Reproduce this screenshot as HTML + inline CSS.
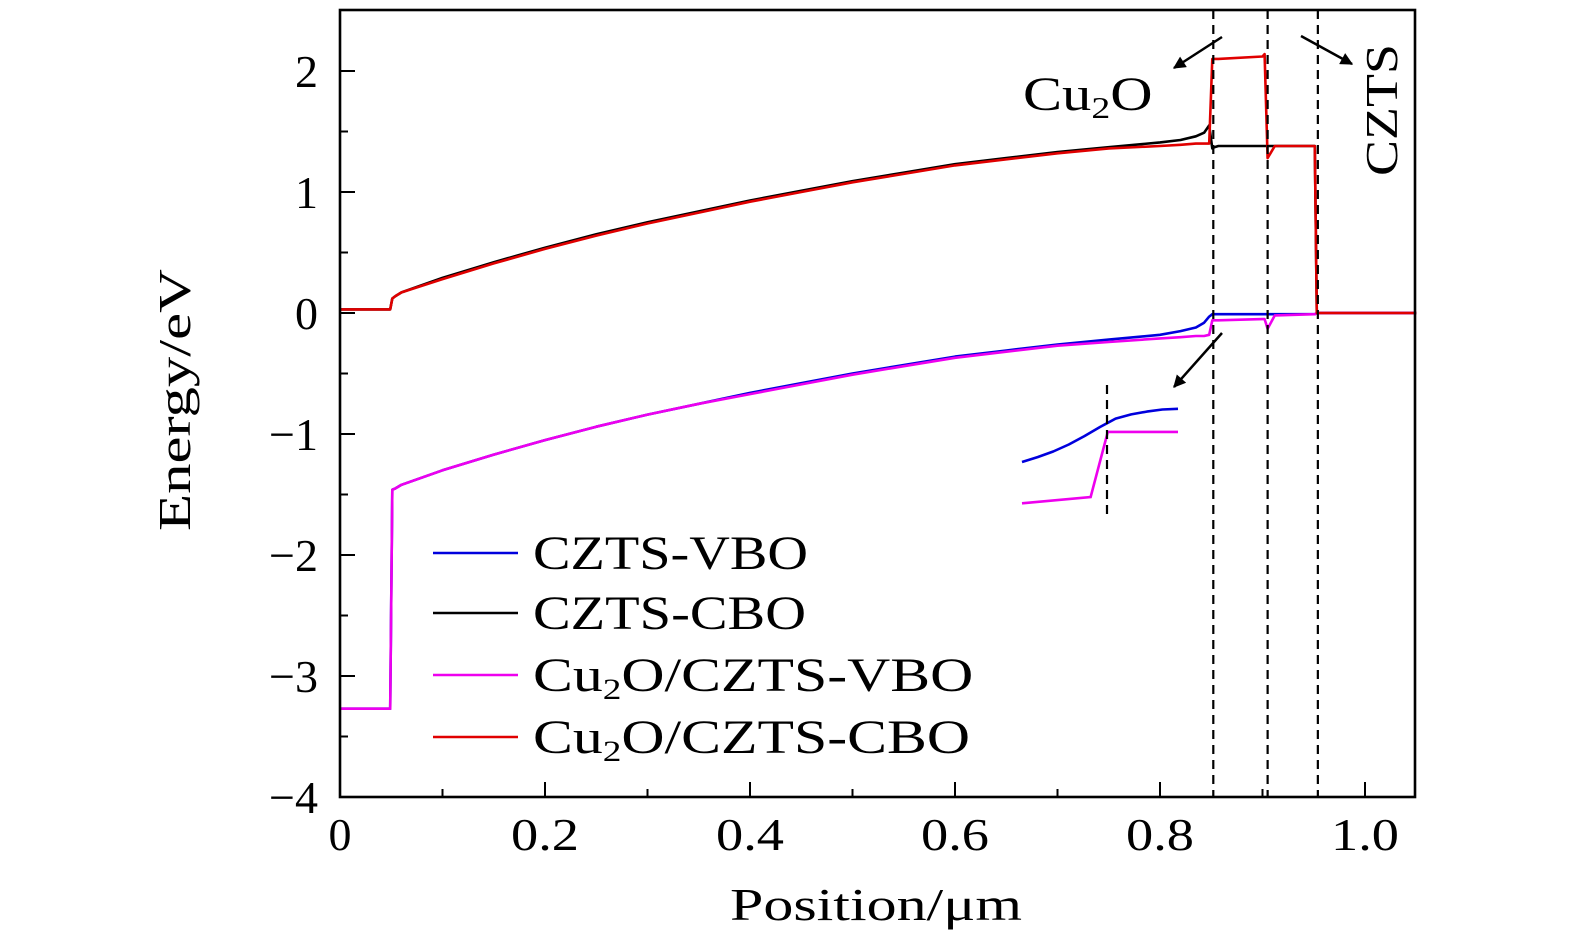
<!DOCTYPE html>
<html><head><meta charset="utf-8"><style>
html,body{margin:0;padding:0;background:#fff;}
svg{display:block;font-family:"Liberation Serif","DejaVu Serif",serif;}
</style></head><body>
<svg id="chart" width="1575" height="945" viewBox="0 0 1575 945" xmlns="http://www.w3.org/2000/svg">
<g id="plot"></g>
</svg>
<script>
const xTicks=[0,0.2,0.4,0.6,0.8,1.0];
const xTickLabels=["0","0.2","0.4","0.6","0.8","1.0"];
const yTicks=[2,1,0,-1,-2,-3,-4];
const yTickLabels=["2","1","0","\u22121","\u22122","\u22123","\u22124"];
const pos=[0,0.049,0.051,0.054,0.06,0.1,0.15,0.2,0.25,0.3,0.35,0.4,0.45,0.5,0.55,0.6,0.65,0.7,0.75,0.8,0.82,0.835,0.843,0.848,0.851,0.853,0.857,0.9,0.902,0.905,0.912,0.951,0.953,1.05];
const czCBO=[0.03,0.03,0.12,0.14,0.17,0.29,0.42,0.54,0.65,0.75,0.84,0.93,1.01,1.09,1.16,1.23,1.28,1.33,1.37,1.41,1.43,1.46,1.49,1.55,1.36,1.37,1.38,1.38,1.38,1.38,1.38,1.38,0.0,0.0];
const cuCBO=[0.03,0.03,0.12,0.14,0.17,0.28,0.41,0.53,0.64,0.74,0.83,0.92,1.00,1.08,1.15,1.22,1.27,1.32,1.36,1.38,1.39,1.40,1.40,1.40,2.10,2.10,2.10,2.12,2.14,1.28,1.38,1.38,0.0,0.0];
const czVBO=[-3.27,-3.27,-1.46,-1.45,-1.42,-1.30,-1.17,-1.05,-0.94,-0.84,-0.75,-0.66,-0.58,-0.50,-0.43,-0.36,-0.31,-0.26,-0.22,-0.18,-0.15,-0.12,-0.08,-0.03,-0.01,-0.01,-0.01,-0.01,-0.01,-0.01,-0.01,-0.01,0.0,0.0];
const cuVBO=[-3.27,-3.27,-1.46,-1.45,-1.42,-1.30,-1.17,-1.05,-0.94,-0.84,-0.75,-0.67,-0.59,-0.51,-0.44,-0.37,-0.32,-0.27,-0.24,-0.21,-0.20,-0.19,-0.19,-0.18,-0.06,-0.06,-0.06,-0.05,-0.05,-0.13,-0.02,-0.01,0.0,0.0];
const interfaces=[0.852,0.905,0.954];
// inset (zoomed view) in normalized units
const insetX=[0,0.1,0.2,0.3,0.4,0.5,0.55,0.6,0.7,0.8,0.9,1.0];
const insetBlue=[0.0,0.07,0.15,0.25,0.37,0.50,0.56,0.62,0.68,0.72,0.75,0.76];
const insetMagX=[0,0.44,0.55,0.6,1.0];
const insetMag=[-0.59,-0.5,0.43,0.43,0.43];

const NS="http://www.w3.org/2000/svg";
const L=340,R=1415,T=10,B=797;
const xs=v=>L+v*1025;
const ys=v=>313-v*121;
const g=document.getElementById('plot');
function mk(t,a,p){const e=document.createElementNS(NS,t);for(const k in a)e.setAttribute(k,a[k]);(p||g).appendChild(e);return e;}

function series(xa,ya,color,name){
  const d=xa.map((x,i)=>(i?'L':'M')+xs(x).toFixed(1)+','+ys(ya[i]).toFixed(1)).join('');
  const p=mk('path',{d:d,fill:'none',stroke:color,'stroke-width':2.6,'stroke-linejoin':'round'});
  
  
}
series(pos,czCBO,'#000','czts-cbo-line');
series(pos,czVBO,'#0000dd','czts-vbo-line');
series(pos,cuVBO,'#ee00ee','cu2o-czts-vbo-line');
series(pos,cuCBO,'#e00000','cu2o-czts-cbo-line');

interfaces.forEach(v=>{
  const l=mk('line',{x1:xs(v),x2:xs(v),y1:T,y2:B,stroke:'#000','stroke-width':2.2,'stroke-dasharray':'9,6'});
  
  
});

// inset
const iL=1022,iW=156,iY0=462,iH=-70;
const ix=v=>iL+v*iW, iy=v=>iY0+v*iH;
let d=insetX.map((x,i)=>(i?'L':'M')+ix(x)+','+iy(insetBlue[i])).join('');
let ib=mk('path',{d:d,fill:'none',stroke:'#0000dd','stroke-width':2.6,'stroke-linejoin':'round'});


d=insetMagX.map((x,i)=>(i?'L':'M')+ix(x)+','+iy(insetMag[i])).join('');
let im=mk('path',{d:d,fill:'none',stroke:'#ee00ee','stroke-width':2.6});


let idl=mk('line',{x1:1107,x2:1107,y1:385,y2:520,stroke:'#000','stroke-width':2.2,'stroke-dasharray':'9,6'});



// arrows
const defs=mk('defs',{});
const mkr=mk('marker',{id:'ah',viewBox:'0 0 10 10',refX:9,refY:5,markerWidth:7,markerHeight:5,orient:'auto',markerUnits:'strokeWidth'},defs);
mk('path',{d:'M0,0L10,5L0,10z',fill:'#000'},mkr);
[[1222,37,1174,68],[1301,36,1352,64],[1222,333,1174,387]].forEach(a=>{
  const l=mk('line',{x1:a[0],y1:a[1],x2:a[2],y2:a[3],stroke:'#000','stroke-width':2.5,'marker-end':'url(#ah)'});
  
  
});

// frame
let fr=mk('rect',{x:L,y:T,width:R-L,height:B-T,fill:'none',stroke:'#000','stroke-width':2.6});



for(let k=1;k<=10;k++){
  const v=k/10, major=k%2===0;
  mk('line',{x1:xs(v),x2:xs(v),y1:B,y2:B-(major?15:8),stroke:'#000','stroke-width':2});
}
xTicks.forEach((v,i)=>{
  const lbl=xTickLabels[i];
  const a={x:xs(v),y:850,'text-anchor':'middle','font-size':46};
  if(lbl.length>1){a.textLength=68;a.lengthAdjust='spacingAndGlyphs';}
  const t=mk('text',a);
  t.textContent=lbl;
  
  
});
for(let k=-7;k<=4;k++){
  const v=k/2, major=k%2===0;
  mk('line',{x1:L,x2:L+(major?15:8),y1:ys(v),y2:ys(v),stroke:'#000','stroke-width':2});
}
yTicks.forEach((v,i)=>{
  const t=mk('text',{x:318,y:ys(v)+16,'text-anchor':'end','font-size':46});
  t.textContent=yTickLabels[i];
  
  
});

// axis titles
let xt=mk('text',{x:876,y:920,'text-anchor':'middle','font-size':46,textLength:292,lengthAdjust:'spacingAndGlyphs'});
xt.textContent='Position/\u03bcm';


let yt=mk('text',{x:0,y:0,'text-anchor':'middle','font-size':46,textLength:262,lengthAdjust:'spacingAndGlyphs',transform:'translate(190,400) rotate(-90)'});
yt.textContent='Energy/eV';



// labels
let c1=mk('text',{x:0,y:0,'font-size':48,transform:'translate(1023,110) scale(1.22,1)'});
c1.innerHTML='Cu<tspan font-size="31" dy="8">2</tspan><tspan dy="-8">O</tspan>';


let c2=mk('text',{x:0,y:0,'text-anchor':'middle','font-size':46,textLength:132,lengthAdjust:'spacingAndGlyphs',transform:'translate(1397,110) rotate(-90)'});
c2.textContent='CZTS';



// legend
const leg=[['#0000dd','CZTS-VBO',553,275],['#000','CZTS-CBO',613,273],['#ee00ee','Cu<tspan font-size="30" dy="8">2</tspan><tspan dy="-8">O/CZTS-VBO</tspan>',675,0],['#e00000','Cu<tspan font-size="30" dy="8">2</tspan><tspan dy="-8">O/CZTS-CBO</tspan>',737,0]];
leg.forEach(e=>{
  const gg=mk('g',{});
  
  
  mk('line',{x1:433,x2:518,y1:e[2],y2:e[2],stroke:e[0],'stroke-width':2.6},gg);
  const a={x:533,y:e[2]+16,'font-size':48};
  if(e[3]){a.textLength=e[3];a.lengthAdjust='spacingAndGlyphs';}
  const t=mk('text',a,gg);
  t.innerHTML=e[1];
  if(!e[3]){t.setAttribute('transform','translate(533,0) scale(1.245,1) translate(-533,0)');}
});
</script>
</body></html>
